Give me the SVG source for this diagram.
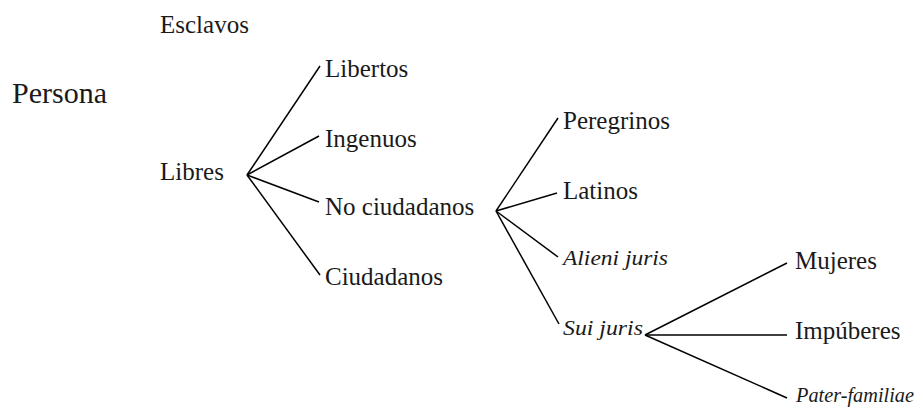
<svg xmlns="http://www.w3.org/2000/svg" width="923" height="414" viewBox="0 0 923 414">
<style>
text{font-family:"Liberation Serif","Times New Roman",serif;font-size:25px;fill:#1a1a1a}
.it{font-style:italic;font-size:22px}
.big{font-size:30px}
#connectors line{stroke:#000;stroke-width:1.5;fill:none}
</style>
<rect width="923" height="414" fill="#fff"/>
<g id="connectors">
<line x1="247" y1="175" x2="320" y2="66"/>
<line x1="247" y1="175" x2="319" y2="136"/>
<line x1="247" y1="175" x2="319" y2="202"/>
<line x1="247" y1="175" x2="320" y2="275"/>
<line x1="496" y1="211" x2="558" y2="118"/>
<line x1="496" y1="211" x2="557" y2="193"/>
<line x1="496" y1="211" x2="558" y2="257"/>
<line x1="496" y1="211" x2="559" y2="324"/>
<line x1="645" y1="335" x2="787" y2="263"/>
<line x1="645" y1="335" x2="787" y2="335"/>
<line x1="645" y1="335" x2="787" y2="398"/>
</g>
<g id="n-esclavos"><text x="160" y="33">Esclavos</text></g>
<g id="n-persona"><text class="big" x="12" y="103">Persona</text></g>
<g id="n-libres"><text x="160" y="180">Libres</text></g>
<g id="n-libertos"><text x="325" y="77">Libertos</text></g>
<g id="n-ingenuos"><text x="325" y="147">Ingenuos</text></g>
<g id="n-nociudadanos"><text x="325" y="215">No ciudadanos</text></g>
<g id="n-ciudadanos"><text x="325" y="285">Ciudadanos</text></g>
<g id="n-peregrinos"><text x="563" y="129">Peregrinos</text></g>
<g id="n-latinos"><text x="563" y="199">Latinos</text></g>
<g id="n-alieni"><text class="it" x="563" y="265" textLength="105" lengthAdjust="spacingAndGlyphs">Alieni juris</text></g>
<g id="n-sui"><text class="it" x="563" y="335" textLength="80" lengthAdjust="spacingAndGlyphs">Sui juris</text></g>
<g id="n-mujeres"><text x="795" y="269">Mujeres</text></g>
<g id="n-impuberes"><text x="795" y="339">Impúberes</text></g>
<g id="n-pater"><text class="it" x="796" y="402" textLength="118" lengthAdjust="spacingAndGlyphs">Pater-familiae</text></g>
</svg>
